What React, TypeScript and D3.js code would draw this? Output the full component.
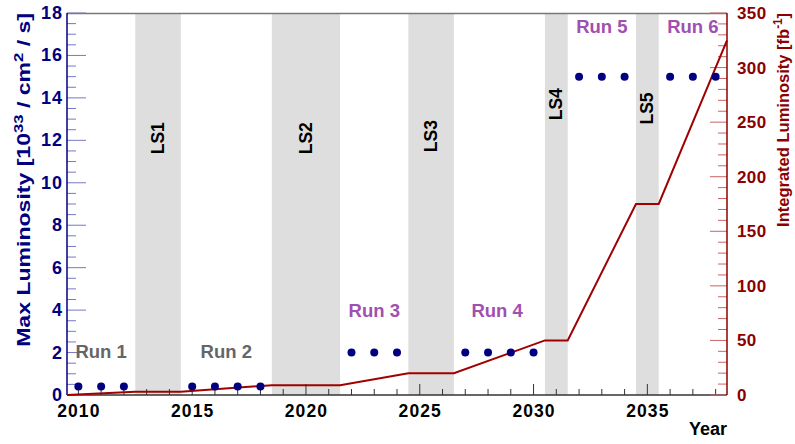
import React, { useEffect, useRef } from 'react';
import * as d3 from 'd3';

// max instantaneous luminosity per year (10^33 / cm^2 / s)
const lumiYears = [2010, 2011, 2012, 2015, 2016, 2017, 2018, 2022, 2023, 2024, 2027, 2028, 2029, 2030, 2032, 2033, 2034, 2036, 2037, 2038];
const lumiValues = [0.4, 0.4, 0.4, 0.4, 0.4, 0.4, 0.4, 2, 2, 2, 2, 2, 2, 2, 15, 15, 15, 15, 15, 15];

// integrated luminosity (fb^-1)
const intYears = [2009.5, 2012.5, 2014.5, 2018.5, 2021.5, 2024.5, 2026.5, 2030.5, 2031.5, 2034.5, 2035.5, 2038.5];
const intValues = [0, 3, 3, 9, 9, 20, 20, 50, 50, 175, 175, 325];

// long shutdowns
const lsNames = ['LS1', 'LS2', 'LS3', 'LS4', 'LS5'];
const lsStart = [2012.5, 2018.5, 2024.5, 2030.5, 2034.5];
const lsEnd = [2014.5, 2021.5, 2026.5, 2031.5, 2035.5];
const lsLabelY = [12.1, 12.1, 12.2, 13.7, 13.5];

// run labels
const runNames = ['Run 1', 'Run 2', 'Run 3', 'Run 4', 'Run 5', 'Run 6'];
const runX = [2011.0, 2016.5, 2023.0, 2028.4, 2033.0, 2037.0];
const runY = [1.74, 1.74, 3.68, 3.68, 17.06, 17.06];
const runColors = ['#666666', '#666666', '#a050b0', '#a050b0', '#a050b0', '#a050b0'];

const xTicks = [2010, 2015, 2020, 2025, 2030, 2035];

const App: React.FC = () => {
  const svgRef = useRef(null);

  useEffect(() => {
    const width = 795;
    const height = 444;
    const marginLeft = 67;
    const marginRight = 68;
    const marginTop = 13;
    const marginBottom = 49;
    const font = '"Liberation Sans", Arial, sans-serif';

    const svg = d3.select(svgRef.current)
      .attr('width', width)
      .attr('height', height)
      .attr('viewBox', [0, 0, width, height])
      .style('font-family', font);
    svg.selectAll('*').remove();

    const x = d3.scaleLinear().domain([2009.5, 2038.5]).range([marginLeft, width - marginRight]);
    const yL = d3.scaleLinear().domain([0, 18]).range([height - marginBottom, marginTop]);
    const yR = d3.scaleLinear().domain([0, 350]).range([height - marginBottom, marginTop]);

    const x0 = x.range()[0], x1 = x.range()[1];
    const y0 = yL.range()[0], y1 = yL.range()[1];

    // shutdown bands
    svg.append('g').selectAll('rect')
      .data(lsNames)
      .enter()
      .append('rect')
      .attr('x', (d, i) => x(lsStart[i]))
      .attr('width', (d, i) => x(lsEnd[i]) - x(lsStart[i]))
      .attr('y', y1)
      .attr('height', y0 - y1)
      .attr('fill', '#dedede');

    // top frame
    svg.append('line')
      .attr('x1', x0).attr('x2', x1).attr('y1', y1 + 0.5).attr('y2', y1 + 0.5)
      .attr('stroke', '#777').attr('stroke-width', 1.5);

    // bottom axis
    const gx = svg.append('g').attr('transform', `translate(0,${y0})`);
    const minorX = d3.range(2010, 2039).filter(v => v % 5 !== 0);
    gx.selectAll('line.minor').data(minorX).enter().append('line')
      .attr('x1', d => x(d)).attr('x2', d => x(d)).attr('y1', 0).attr('y2', -6)
      .attr('stroke', '#333').attr('stroke-width', 1);
    gx.selectAll('line.major').data(xTicks).enter().append('line')
      .attr('x1', d => x(d)).attr('x2', d => x(d)).attr('y1', 0).attr('y2', -11)
      .attr('stroke', '#333').attr('stroke-width', 1);
    gx.append('line').attr('x1', x0).attr('x2', x1).attr('y1', 0).attr('y2', 0)
      .attr('stroke', '#333').attr('stroke-width', 1.5);
    gx.selectAll('text').data(xTicks).enter().append('text')
      .attr('x', d => x(d) + 0.5).attr('y', 22)
      .attr('text-anchor', 'middle')
      .attr('font-size', 17.5).attr('letter-spacing', 1.1).attr('font-weight', 'bold').attr('fill', '#000')
      .text(d => d);
    svg.append('text')
      .attr('x', x1).attr('y', 435)
      .attr('text-anchor', 'end')
      .attr('font-size', 18).attr('font-weight', 'bold').attr('fill', '#000')
      .text('Year');

    // left axis
    const blue = '#000080';
    const gl = svg.append('g').attr('transform', `translate(${x0},0)`);
    const minorL = d3.range(0, 18.01, 0.5).filter(v => v % 2 !== 0);
    gl.selectAll('line.minor').data(minorL).enter().append('line')
      .attr('x1', 0).attr('x2', 9).attr('y1', d => yL(d)).attr('y2', d => yL(d))
      .attr('stroke', '#7777c8').attr('stroke-width', 1);
    gl.selectAll('line.major').data(yL.ticks(9)).enter().append('line')
      .attr('x1', 0).attr('x2', 19).attr('y1', d => yL(d)).attr('y2', d => yL(d))
      .attr('stroke', '#7777c8').attr('stroke-width', 1);
    gl.append('line').attr('x1', 0).attr('x2', 0).attr('y1', y0).attr('y2', y1)
      .attr('stroke', blue).attr('stroke-width', 1.5);
    gl.selectAll('text').data(yL.ticks(9)).enter().append('text')
      .attr('x', -4).attr('y', d => yL(d) + 6)
      .attr('text-anchor', 'end')
      .attr('font-size', 18).attr('letter-spacing', 1).attr('font-weight', 'bold').attr('fill', blue)
      .text(d => d);

    // left title, stretched along its length to span the axis like the reference
    const lt = svg.append('text')
      .attr('text-anchor', 'end')
      .attr('font-size', 18).attr('font-weight', 'bold').attr('fill', blue);
    lt.append('tspan').text('Max Luminosity [10');
    lt.append('tspan').attr('font-size', 13).attr('dy', -7).text('33');
    lt.append('tspan').attr('dy', 7).text(' / cm');
    lt.append('tspan').attr('font-size', 13).attr('dy', -7).text('2');
    lt.append('tspan').attr('dy', 7).text(' / s]');
    const ltLen = (lt.node() as SVGTextElement).getComputedTextLength();
    lt.attr('transform', `translate(30,${y1}) rotate(-90) scale(${334 / ltLen},1)`);

    // right axis
    const red = '#8b0000';
    const gr = svg.append('g').attr('transform', `translate(${x1},0)`);
    const minorR = d3.range(0, 351, 10).filter(v => v % 50 !== 0);
    gr.selectAll('line.minor').data(minorR).enter().append('line')
      .attr('x1', 0).attr('x2', -9).attr('y1', d => yR(d)).attr('y2', d => yR(d))
      .attr('stroke', '#c86464').attr('stroke-width', 1);
    gr.selectAll('line.major').data(yR.ticks(7)).enter().append('line')
      .attr('x1', 0).attr('x2', -17).attr('y1', d => yR(d)).attr('y2', d => yR(d))
      .attr('stroke', '#c86464').attr('stroke-width', 1);
    gr.append('line').attr('x1', 0).attr('x2', 0).attr('y1', y0).attr('y2', y1)
      .attr('stroke', red).attr('stroke-width', 1.5);
    gr.selectAll('text').data(yR.ticks(7)).enter().append('text')
      .attr('x', 10).attr('y', d => yR(d) + 6)
      .attr('text-anchor', 'start')
      .attr('font-size', 17).attr('letter-spacing', 0.4).attr('font-weight', 'bold').attr('fill', red)
      .text(d => d);
    const rt = svg.append('text')
      .attr('text-anchor', 'end')
      .attr('font-size', 17).attr('font-weight', 'bold').attr('fill', red);
    rt.append('tspan').text('Integrated Luminosity [fb');
    rt.append('tspan').attr('font-size', 12).attr('dy', -7).text('-1');
    rt.append('tspan').attr('dy', 7).text(']');
    const rtLen = (rt.node() as SVGTextElement).getComputedTextLength();
    rt.attr('transform', `translate(789,${y1}) rotate(-90) scale(${214 / rtLen},1)`);

    // integrated luminosity line
    const line = d3.line<number>()
      .x((d, i) => x(intYears[i]))
      .y(d => yR(d));
    svg.append('path')
      .datum(intValues)
      .attr('d', line)
      .attr('fill', 'none')
      .attr('stroke', '#a00000')
      .attr('stroke-width', 2);

    // max luminosity points
    svg.append('g').selectAll('circle')
      .data(lumiValues)
      .enter()
      .append('circle')
      .attr('cx', (d, i) => x(lumiYears[i]))
      .attr('cy', d => yL(d))
      .attr('r', 4)
      .attr('fill', blue);

    // LS labels
    svg.append('g').selectAll('text')
      .data(lsNames)
      .enter()
      .append('text')
      .attr('transform', (d, i) => `translate(${x((lsStart[i] + lsEnd[i]) / 2) + 6},${yL(lsLabelY[i])}) rotate(-90)`)
      .attr('text-anchor', 'middle')
      .attr('font-size', 17.5).attr('font-weight', 'bold').attr('fill', '#000')
      .text(d => d);

    // run labels
    svg.append('g').selectAll('text')
      .data(runNames)
      .enter()
      .append('text')
      .attr('x', (d, i) => x(runX[i]))
      .attr('y', (d, i) => yL(runY[i]))
      .attr('text-anchor', 'middle')
      .attr('font-size', 18.5).attr('font-weight', 'bold')
      .attr('fill', (d, i) => runColors[i])
      .text(d => d);
  }, []);

  return (
    <svg ref={svgRef} style={{ position: 'absolute', left: 0, top: 0 }}></svg>
  );
};

export default App;
